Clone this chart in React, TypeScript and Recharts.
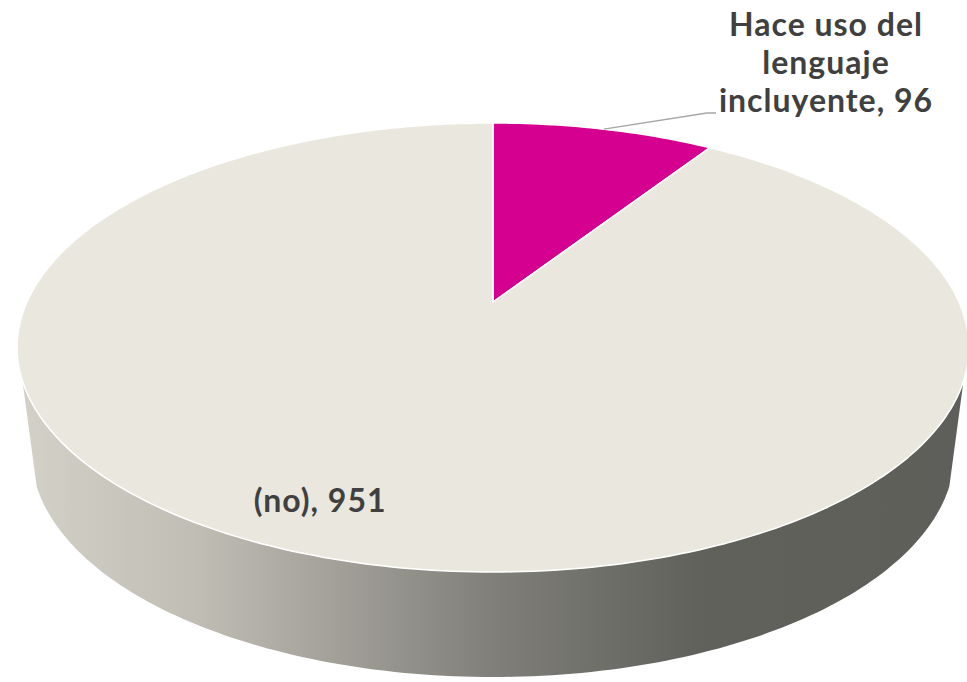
import React from "react";
import { PieChart, Pie } from "recharts";

const categories = ["Hace uso del lenguaje incluyente", "(no)"];
const counts = [96, 951];
const sliceColors = ["#d5008f", "#eae8de"];

const data = categories.map((name, i) => ({ name, value: counts[i] }));

// fake 3D: squash + a bit of perspective (back smaller than front)
const TILT = 0.462;
const PERSP = 0.2027;
const DEPTH = 105;
const BOTTOM_SHRINK = 0.97;
const FRONT_FROM = 200;
const FRONT_TO = 340;

const labelFont = {
  fontSize: 32,
  fontWeight: 700,
  fill: "#404040",
  fontFamily: "Lato, 'Noto Sans', sans-serif",
  letterSpacing: 1,
};

function project(cx: number, cy: number, r: number, angle: number, f = 1) {
  const t = (angle * Math.PI) / 180;
  const u = f * Math.cos(t);
  const v = f * Math.sin(t);
  const d = 1 + PERSP * v;
  return [cx + (r * u) / d, cy - (r * TILT * v) / d];
}

function arcPoints(cx: number, cy: number, r: number, a0: number, a1: number) {
  const n = Math.max(2, Math.ceil(Math.abs(a1 - a0)));
  const pts: number[][] = [];
  for (let i = 0; i <= n; i++) {
    pts.push(project(cx, cy, r, a0 + ((a1 - a0) * i) / n));
  }
  return pts;
}

function toPath(pts: number[][]) {
  return pts.map((p, i) => `${i ? "L" : "M"}${p[0].toFixed(1)},${p[1].toFixed(1)}`).join(" ") + " Z";
}

function renderSlice(props: any) {
  const { cx, cy, outerRadius, startAngle, endAngle, midAngle, index, value } = props;
  const color = sliceColors[index];

  // side wall only where the slice faces the viewer
  const lo = Math.min(startAngle, endAngle);
  const hi = Math.max(startAngle, endAngle);
  let side: React.ReactNode = null;
  for (let k = -2; k <= 1; k++) {
    const a0 = Math.max(lo, FRONT_FROM + 360 * k);
    const a1 = Math.min(hi, FRONT_TO + 360 * k);
    if (a1 > a0) {
      const top = arcPoints(cx, cy, outerRadius, a0, a1);
      const bottom = top
        .map((p) => [cx + (p[0] - cx) * BOTTOM_SHRINK, p[1] + DEPTH])
        .reverse();
      side = <path d={toPath([...top, ...bottom])} fill="url(#sideShade)" stroke="none" />;
    }
  }

  const face = toPath([[cx, cy], ...arcPoints(cx, cy, outerRadius, startAngle, endAngle)]);

  let label: React.ReactNode;
  if (index === 0) {
    const p = project(cx, cy, outerRadius, midAngle);
    label = (
      <g>
        <polyline
          points={`${p[0]},${p[1]} 707,113 716,113`}
          fill="none"
          stroke="#a6a6a6"
          strokeWidth={1.3}
        />
        <text textAnchor="middle" {...labelFont}>
          <tspan x={826} y={36}>Hace uso del</tspan>
          <tspan x={826} y={74}>lenguaje</tspan>
          <tspan x={826} y={112}>{`incluyente, ${value}`}</tspan>
        </text>
      </g>
    );
  } else {
    const p = project(cx, cy, outerRadius, midAngle - 5.5, 0.835);
    label = (
      <text x={p[0]} y={p[1] + 12} textAnchor="middle" {...labelFont}>
        {`(no), ${value}`}
      </text>
    );
  }

  return (
    <g key={`slice-${index}`}>
      <defs>
        <linearGradient id="sideShade" gradientUnits="userSpaceOnUse" x1={17} y1={0} x2={967} y2={0}>
          <stop offset="0" stopColor="#d4d1c9" />
          <stop offset="0.19" stopColor="#c0bdb5" />
          <stop offset="0.5" stopColor="#807f79" />
          <stop offset="0.72" stopColor="#60615b" />
          <stop offset="1" stopColor="#5e5f5a" />
        </linearGradient>
      </defs>
      {side}
      <path d={face} fill={color} stroke="#ffffff" strokeWidth={1.5} strokeLinejoin="round" />
      {label}
    </g>
  );
}

export default function App() {
  return (
    <div style={{ position: "absolute", left: 0, top: 0, width: 967, height: 682, background: "#fff" }}>
      <PieChart width={967} height={682} margin={{ top: 0, right: 0, bottom: 0, left: 0 }}>
        <Pie
          data={data}
          dataKey="value"
          nameKey="name"
          cx={493}
          cy={302}
          outerRadius={466}
          startAngle={90}
          endAngle={-270}
          fill="transparent"
          stroke="none"
          label={renderSlice}
          labelLine={false}
          isAnimationActive={false}
        />
      </PieChart>
    </div>
  );
}
